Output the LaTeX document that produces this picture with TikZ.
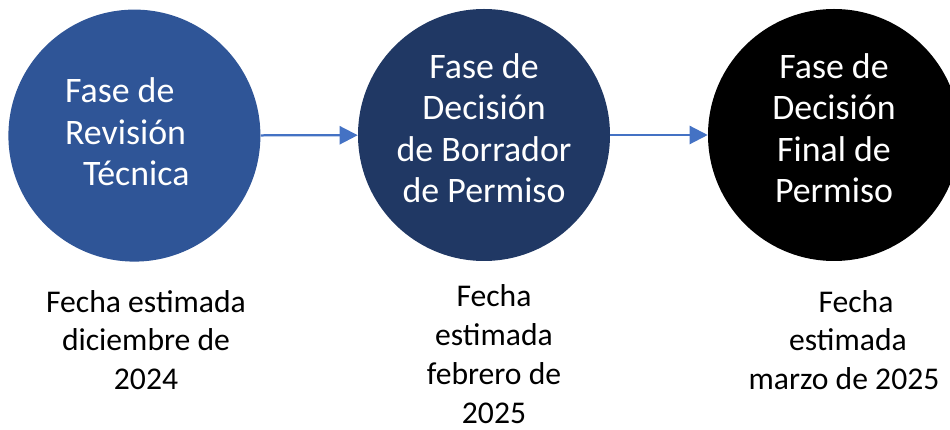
\documentclass[tikz,border=0pt]{standalone}
\usepackage{xcolor}
\usepackage{fontspec}
\setmainfont{Carlito}
\usepackage{tikz}
\usetikzlibrary{positioning}
\usetikzlibrary{arrows.meta}

\definecolor{azulfase}{HTML}{2F5597}
\definecolor{marinofase}{HTML}{203864}
\definecolor{flechaazul}{HTML}{4472C4}

\begin{document}
\begin{tikzpicture}
                [fase/.style = {minimum size = 6.3cm, circle, inner sep=0pt},
                 texto/.style = {text=white, inner sep=0pt, font=\fontsize{25.5pt}{29.5pt}\selectfont},
                 fecha/.style = {align=center, inner sep=0pt, font=\fontsize{22.5pt}{27.6pt}\selectfont},
                 flecha/.style = {-{Triangle[length=0.45cm, width=0.45cm]}, draw=flechaazul, line width=1.6pt}]
    
                \useasboundingbox (0,0) rectangle (23.75,-10.75);
                \clip (0,0) rectangle (23.75,-10.75);
    
                \node[fase, fill=azulfase] (revision) at (3.36,-3.39) {};
                \node[fase, fill=marinofase] (borrador) at (12.1,-3.375) {};
                \node[fase, fill=black] (final) at (20.85,-3.375) {};
    
                \node[texto, align=left, anchor=west] (trev) at (1.62,-3.3) {Fase de\\Revisión\\\hspace{0.45cm}Técnica};
                \node[texto, align=center] (tbor) at (12.1,-3.2) {Fase de\\Decisión\\de Borrador\\de Permiso};
                \node[texto, align=center] (tfin) at (20.85,-3.2) {Fase de\\Decisión\\Final de\\Permiso};
    
                \node[fecha] (frev) at (3.65,-8.5) {Fecha estimada\\diciembre de\\2024};
                \node[fecha] (fbor) at (12.35,-8.85) {Fecha\\estimada\\febrero de\\2025};
                \node[fecha] (ffin) at (21.1,-8.5) {\hspace{0.6cm}Fecha\\\hspace{0.2cm}estimada\\marzo de 2025};
    
                \draw[flecha] (revision) to (borrador);
                \draw[flecha] (borrador) to (final);
            \end{tikzpicture}
\end{document}
